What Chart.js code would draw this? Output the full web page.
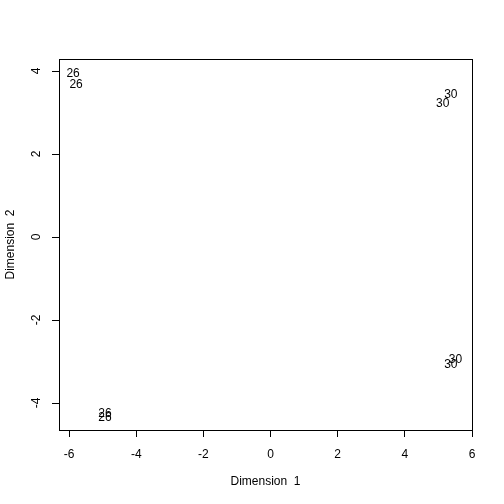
<!DOCTYPE html>
<html>
<head>
<meta charset="utf-8">
<script src="https://cdn.jsdelivr.net/npm/chart.js@4"></script>
<style>
  html, body { margin: 0; padding: 0; background: #fff; }
  #wrap { width: 504px; height: 504px; }
</style>
</head>
<body>
<div id="wrap"><canvas id="mds-chart" width="504" height="504"></canvas></div>
<script>
// point labels and coordinates
const labels = ["26", "26", "30", "30", "30", "30", "26", "26"];
const dim1 = [-5.88, -5.79, 5.37, 5.13, 5.51, 5.37, -4.93, -4.93];
const dim2 = [3.96, 3.71, 3.47, 3.23, -2.92, -3.04, -4.23, -4.33];

const xTicks = [-6, -4, -2, 0, 2, 4, 6];
const yTicks = [-4, -2, 0, 2, 4];

const FONT = "'Liberation Sans', Arial, Helvetica, sans-serif";

// box around the plot, y tick labels (rotated like R) and the text markers
const rPlot = {
  id: 'rPlot',
  afterDraw(chart) {
    const c = chart.ctx, a = chart.chartArea;
    const xs = chart.scales.x, ys = chart.scales.y;
    c.save();
    c.strokeStyle = '#000';
    c.lineWidth = 1;
    c.strokeRect(Math.round(a.left) + 0.5, Math.round(a.top) + 0.5,
                 Math.round(a.right - a.left), Math.round(a.bottom - a.top));

    c.fillStyle = '#000';
    c.font = '12px ' + FONT;
    c.textAlign = 'center';
    c.textBaseline = 'middle';
    ys.ticks.forEach(t => {
      c.save();
      c.translate(37, ys.getPixelForValue(t.value));
      c.rotate(-Math.PI / 2);
      c.fillText(String(t.value), 0, 0);
      c.restore();
    });

    // R centres text on the digit height, so sit on the baseline instead
    c.textBaseline = 'alphabetic';
    const ds = chart.data.datasets[0];
    ds.data.forEach((p, i) => {
      c.fillText(labels[i], xs.getPixelForValue(p.x), ys.getPixelForValue(p.y) + 4.5);
    });
    c.restore();
  }
};

const ctx = document.getElementById('mds-chart').getContext('2d');

const chart = new Chart(ctx, {
  type: 'scatter',
  data: {
    datasets: [{
      label: 'MDS',
      data: dim1.map((x, i) => ({ x: x, y: dim2[i] })),
      pointRadius: 0,
      pointHoverRadius: 0,
      showLine: false
    }]
  },
  options: {
    responsive: false,
    animation: false,
    events: [],
    layout: { padding: { top: 59, right: 32, left: 0, bottom: 0 } },
    plugins: {
      legend: { display: false },
      tooltip: { enabled: false }
    },
    scales: {
      x: {
        type: 'linear',
        min: -6.3,
        max: 6.0,
        afterBuildTicks: s => { s.ticks = xTicks.map(v => ({ value: v })); },
        afterFit: s => { s.height = 74; },
        border: { display: false },
        grid: { drawOnChartArea: false, drawTicks: true, tickLength: 7, color: '#000', lineWidth: 1 },
        ticks: { color: '#000', font: { family: FONT, size: 12 }, padding: 10, maxRotation: 0, autoSkip: false },
        title: { display: true, text: 'Dimension  1', color: '#000',
                 font: { family: FONT, size: 12 }, padding: { top: 0, bottom: 15 } }
      },
      y: {
        type: 'linear',
        min: -4.65,
        max: 4.29,
        afterBuildTicks: s => { s.ticks = yTicks.map(v => ({ value: v })); },
        afterFit: s => { s.width = 59; },
        border: { display: false },
        grid: { drawOnChartArea: false, drawTicks: true, tickLength: 7, color: '#000', lineWidth: 1 },
        ticks: { display: false },
        title: { display: true, text: 'Dimension  2', color: '#000',
                 font: { family: FONT, size: 12 }, padding: { top: 3, bottom: 0 } }
      }
    }
  },
  plugins: [rPlot]
});
</script>
</body>
</html>
